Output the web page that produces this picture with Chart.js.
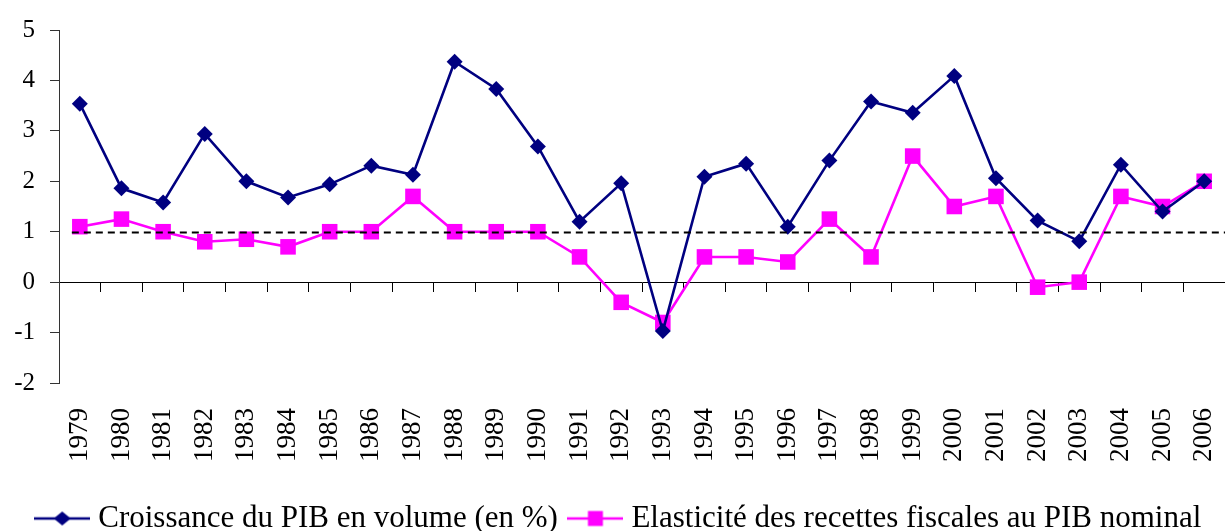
<!DOCTYPE html>
<html>
<head>
<meta charset="utf-8">
<script src="https://cdn.jsdelivr.net/npm/chart.js@4/dist/chart.umd.min.js"></script>
<style>
  html, body { margin: 0; padding: 0; background: #fff; }
  #wrap { width: 1225px; height: 531px; position: relative; }
</style>
</head>
<body>
<div id="wrap"><canvas id="pibChart"></canvas></div>
<script>
const years = ['1979', '1980', '1981', '1982', '1983', '1984', '1985', '1986', '1987', '1988',
               '1989', '1990', '1991', '1992', '1993', '1994', '1995', '1996', '1997', '1998',
               '1999', '2000', '2001', '2002', '2003', '2004', '2005', '2006'];
const croissancePib = [3.54, 1.86, 1.58, 2.94, 2.0, 1.68, 1.94, 2.31, 2.13, 4.37,
                       3.83, 2.69, 1.2, 1.96, -0.97, 2.09, 2.35, 1.1, 2.41, 3.58,
                       3.36, 4.09, 2.06, 1.22, 0.81, 2.33, 1.4, 2.0];
const elasticite = [1.1, 1.25, 1.0, 0.8, 0.85, 0.7, 1.0, 1.0, 1.7, 1.0,
                    1.0, 1.0, 0.5, -0.4, -0.8, 0.5, 0.5, 0.4, 1.25, 0.5,
                    2.5, 1.5, 1.7, -0.1, 0.0, 1.7, 1.5, 2.0];
const seriesNames = ['Croissance du PIB en volume (en %)', 'Elasticité des recettes fiscales au PIB nominal'];
const yMin = -2;
const yMax = 5;
const seuil = 1;

const serif = '"Liberation Serif", "Times New Roman", serif';
const navy = '#000080';
const magenta = '#FF00FF';

// little line+marker pictures for the legend, like the Excel ones
function legendIcon(color, shape) {
    const c = document.createElement('canvas');
    c.width = 56;
    c.height = 20;
    const g = c.getContext('2d');
    g.strokeStyle = color;
    g.lineWidth = 2.6;
    g.beginPath();
    g.moveTo(0, 10);
    g.lineTo(56, 10);
    g.stroke();
    g.fillStyle = color;
    if (shape === 'diamond') {
        g.beginPath();
        g.moveTo(28, 3);
        g.lineTo(36.5, 10);
        g.lineTo(28, 17);
        g.lineTo(19.5, 10);
        g.closePath();
        g.fill();
    } else {
        g.fillRect(20.5, 2.5, 15, 15);
    }
    return c;
}
const icons = [legendIcon(navy, 'diamond'), legendIcon(magenta, 'square')];

// dashed reference line at y = 1
const seuilLine = {
    id: 'seuilLine',
    afterDatasetsDraw(chart) {
        const x = chart.scales.x;
        const y = chart.scales.y;
        const ctx = chart.ctx;
        const py = Math.round(y.getPixelForValue(seuil)) + 0.5;
        ctx.save();
        ctx.strokeStyle = '#000';
        ctx.lineWidth = 2;
        ctx.setLineDash([7, 5]);
        ctx.beginPath();
        ctx.moveTo(x.getPixelForValue(0) - 8, py);
        ctx.lineTo(chart.chartArea.right, py);
        ctx.stroke();
        ctx.restore();
    }
};

// nudge the legend row a little to the right, as in the original
const legendShift = {
    id: 'legendShift',
    afterLayout(chart) {
        chart.legend.left += 9;
        chart.legend.right += 9;
    }
};

const ctx = document.getElementById('pibChart').getContext('2d');
new Chart(ctx, {
    type: 'line',
    data: {
        labels: years,
        datasets: [
            {
                label: seriesNames[0],
                data: croissancePib,
                borderColor: navy,
                backgroundColor: navy,
                borderWidth: 2.6,
                pointStyle: 'rectRot',
                pointRadius: 8,
                pointBorderWidth: 0,
                tension: 0,
                clip: false
            },
            {
                label: seriesNames[1],
                data: elasticite,
                borderColor: magenta,
                backgroundColor: magenta,
                borderWidth: 2.6,
                pointStyle: 'rect',
                pointRadius: 11,
                pointBorderWidth: 0,
                tension: 0,
                clip: false
            }
        ]
    },
    options: {
        responsive: true,
        maintainAspectRatio: false,
        animation: false,
        layout: {
            autoPadding: false,
            padding: { top: 27, left: 0, right: 0, bottom: -13 }
        },
        scales: {
            x: {
                type: 'category',
                position: { y: 0 },
                offset: true,
                grid: {
                    offset: true,
                    drawOnChartArea: false,
                    drawTicks: true,
                    tickLength: 9,
                    color: '#000'
                },
                border: { display: true, color: '#000', width: 1 },
                ticks: { display: false }
            },
            x2: {
                type: 'category',
                position: 'bottom',
                offset: true,
                grid: { display: false, drawTicks: false },
                border: { display: false },
                ticks: {
                    minRotation: 90,
                    maxRotation: 90,
                    autoSkip: false,
                    padding: 25,
                    color: '#000',
                    font: { family: serif, size: 27 }
                },
                afterFit: function(scale) {
                    scale.height = 103;
                    scale.paddingLeft = 0;
                    scale.paddingRight = 0;
                }
            },
            y: {
                min: yMin,
                max: yMax,
                ticks: {
                    stepSize: 1,
                    padding: 15,
                    color: '#000',
                    font: { family: serif, size: 25 }
                },
                grid: {
                    drawOnChartArea: false,
                    tickLength: 9,
                    color: '#333'
                },
                border: { display: true, color: '#333', width: 1 },
                afterFit: function(scale) {
                    scale.width = 59;
                }
            }
        },
        plugins: {
            legend: {
                position: 'bottom',
                labels: {
                    usePointStyle: true,
                    pointStyleWidth: 41,
                    padding: 17,
                    color: '#000',
                    font: { family: serif, size: 31 },
                    generateLabels: function(chart) {
                        return chart.data.datasets.map((ds, i) => ({
                            text: ds.label,
                            pointStyle: icons[i],
                            fillStyle: ds.borderColor,
                            strokeStyle: ds.borderColor,
                            lineWidth: 0,
                            hidden: false,
                            fontColor: '#000',
                            datasetIndex: i
                        }));
                    }
                }
            },
            tooltip: { enabled: false }
        }
    },
    plugins: [seuilLine, legendShift]
});
</script>
</body>
</html>
